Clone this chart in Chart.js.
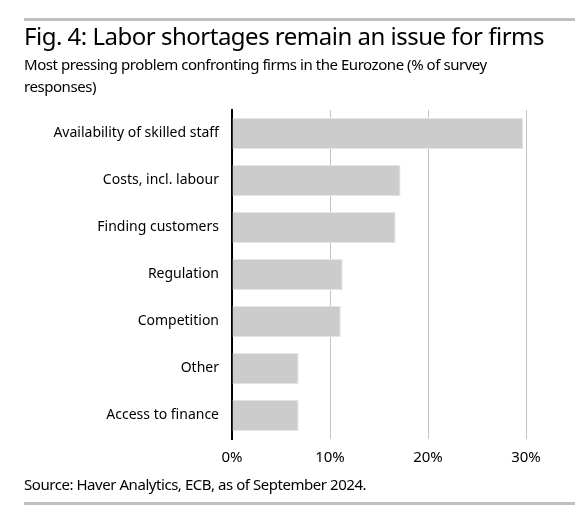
<!DOCTYPE html>
<html>
<head>
<meta charset="utf-8">
<script src="https://cdn.jsdelivr.net/npm/chart.js@4"></script>
<style>
  html, body { margin: 0; padding: 0; background: #fff; }
  body { width: 587px; height: 518px; position: relative; overflow: hidden; font-family: "Noto Sans", "Open Sans", sans-serif; color: #000; }
  #wrap { position: absolute; left: 0; top: 0; width: 587px; height: 518px; }
  .rule { position: absolute; left: 24px; width: 551px; height: 3px; background: #bfbfbf; }
  #title { position: absolute; left: 24px; top: 19px; font-size: 24px; letter-spacing: -0.5px; white-space: nowrap; }
  #sub { position: absolute; left: 24px; top: 53px; width: 500px; font-size: 15px; letter-spacing: -0.45px; line-height: 22px; }
  #src { position: absolute; left: 24px; top: 474px; font-size: 15px; letter-spacing: -0.45px; white-space: nowrap; }
</style>
</head>
<body>
<div id="wrap"><canvas id="c" width="587" height="518"></canvas></div>
<div class="rule" style="top:18px"></div>
<div id="title">Fig. 4: Labor shortages remain an issue for firms</div>
<div id="sub">Most pressing problem confronting firms in the Eurozone (% of survey responses)</div>
<div id="src">Source: Haver Analytics, ECB, as of September 2024.</div>
<div class="rule" style="top:502px"></div>
<script>
const categories = ["Availability of skilled staff", "Costs, incl. labour", "Finding customers", "Regulation", "Competition", "Other", "Access to finance"];
const values = [29.7, 17.2, 16.7, 11.3, 11.1, 6.8, 6.8];
const tickValues = [0, 10, 20, 30];

new Chart(document.getElementById('c'), {
  type: 'bar',
  data: {
    labels: categories,
    datasets: [{
      data: values,
      backgroundColor: '#cccccc',
      borderColor: '#e4e4e4',
      borderWidth: 1,
      barPercentage: 0.655,
      categoryPercentage: 1
    }]
  },
  options: {
    indexAxis: 'y',
    responsive: false,
    animation: false,
    devicePixelRatio: 1,
    layout: { padding: { top: 110, left: 0, right: 61, bottom: 0 } },
    plugins: { legend: { display: false }, tooltip: { enabled: false } },
    scales: {
      x: {
        min: 0, max: 30,
        afterFit: s => { s.height = 79; },
        afterBuildTicks: s => { s.ticks = tickValues.map(v => ({ value: v })); },
        ticks: {
          color: '#000',
          font: { family: '"Noto Sans", "Open Sans", sans-serif', size: 15 },
          padding: 10,
          callback: v => v + '%'
        },
        grid: {
          drawTicks: false,
          color: ctx => ctx.tick && ctx.tick.value === 0 ? 'rgba(0,0,0,0)' : '#c4c4c4',
          lineWidth: 1
        },
        border: { display: false }
      },
      y: {
        afterFit: s => { s.width = 232; },
        ticks: {
          color: '#000',
          font: { family: '"Noto Sans", "Open Sans", sans-serif', size: 14 },
          padding: 13
        },
        grid: { display: false, drawTicks: false },
        border: { display: true, color: '#000', width: 2 }
      }
    }
  }
});
</script>
</body>
</html>
